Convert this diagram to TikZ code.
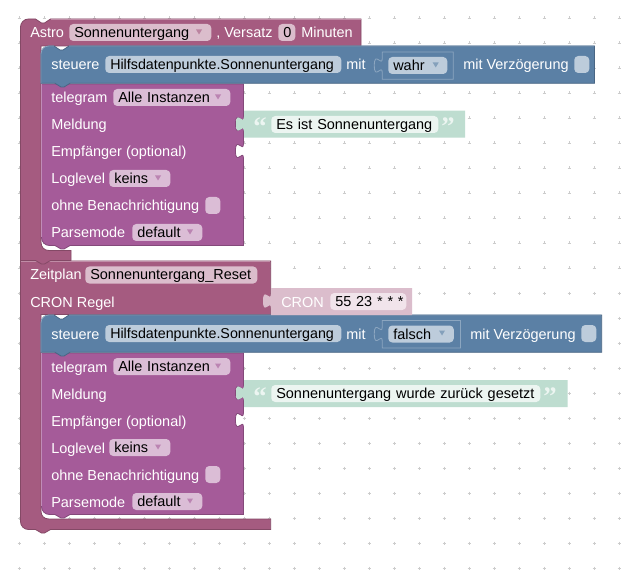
\documentclass[tikz,border=0pt]{standalone}
\usepackage{fontspec}
\setmainfont{Liberation Sans}
\definecolor{astro}{HTML}{A55B80}
\definecolor{astroD}{HTML}{844966}
\definecolor{astroL}{HTML}{C08CA6}
\definecolor{astroF}{HTML}{DBBDCC}
\definecolor{blk}{HTML}{5B80A5}
\definecolor{blkD}{HTML}{496684}
\definecolor{blkL}{HTML}{8CA6C0}
\definecolor{blkF}{HTML}{BDCCDB}
\definecolor{tele}{HTML}{A55B99}
\definecolor{teleD}{HTML}{84497A}
\definecolor{teleL}{HTML}{C08CB8}
\definecolor{teleF}{HTML}{DBBDD6}
\definecolor{grn}{HTML}{BEDDD0}
\definecolor{grnF}{HTML}{ECF5F1}
\definecolor{cronF}{HTML}{F1E4EB}
\definecolor{gridc}{HTML}{CCCCCC}
\tikzset{
  x=0.75pt,y=-0.75pt,
  lab/.style={anchor=base west,inner sep=0pt,text=white,font=\fontsize{10.85pt}{12pt}\selectfont},
  fieldbox/.style={anchor=west,rounded corners=3pt,inner xsep=3.75pt,inner ysep=0pt,
     minimum height=12.75pt,text height=9pt,text depth=1.5pt,align=left,text=black,
     font=\fontsize{10.85pt}{12pt}\selectfont},
  quotemark/.style={anchor=base west,inner sep=0pt,text=grnF,font=\fontsize{20pt}{20pt}\selectfont\bfseries\qfont},
}
\newfontfamily\qfont{Liberation Serif}[BoldFont={Liberation Serif Bold}]
% tab going up / down on a vertical edge (Y = top of the 15px tab)
\newcommand{\tabU}[2]{.. controls (#1,#2+5) and (#1-8,#2+23) .. (#1-8,#2+7.5) .. controls (#1-8,#2-8) and (#1,#2+10) .. (#1,#2)}
\newcommand{\tabD}[2]{.. controls (#1,#2+10) and (#1-8,#2-8) .. (#1-8,#2+7.5) .. controls (#1-8,#2+23) and (#1,#2+5) .. (#1,#2+15)}
% field: name, x1, x2, yc, colour, text
\newcommand{\fld}[6]{\pgfmathsetmacro\fldw{(#3-#2-10)*0.75}%
  \node[fieldbox,fill=#5,text width=\fldw pt] (#1) at (#2,#4) {\mbox{#6}};}
\newcommand{\arrowmark}[3]{\fill[#3] (#1-3,#2-2.5) -- (#1+3,#2-2.5) -- (#1,#2+2.5) -- cycle;}
\newcommand{\telegramblock}[1]{%
 \begin{scope}[yshift=#1*-0.75pt]
  \path[fill=tele,draw=teleD,line width=.6pt]
    (41.5,84) -- (243.5,84) -- (243.5,116.5) \tabD{243.5}{116.5} -- (243.5,143.5) \tabD{243.5}{143.5}
    -- (243.5,245.5) -- (70,245.5) -- (64,249) -- (61,249) -- (55,245.5) -- (49.5,245.5)
    .. controls (45,245.5) and (41.5,242) .. (41.5,237.5) -- cycle;
  \draw[teleL,line width=.6pt] (41.5,237) -- (41.5,84);
 \end{scope}}
\newcommand{\hilf}{\fontsize{10.7pt}{12pt}\selectfont Hilfsdatenpunkte.Sonnenuntergang}
\begin{document}
\begin{tikzpicture}
\useasboundingbox (0,0) rectangle (635,570);
\fill[white] (0,0) rectangle (635,570);
\foreach \gx in {19,44,...,619}
  \foreach \gy in {18,43,...,568}
    \draw[gridc,line width=.5pt] (\gx-1.5,\gy) -- (\gx+1.5,\gy) (\gx,\gy-1.5) -- (\gx,\gy+1.5);

% Zeitplan C block
\path[fill=astro,draw=astroD,line width=.6pt]
  (20.5,261) -- (270.7,261) -- (270.7,314.5) -- (41,314.5) -- (41,511)
  .. controls (41,516) and (44,519) .. (49,519) -- (270.7,519) -- (270.7,529.5)
  -- (50.5,529.5) -- (44.5,533) -- (41.5,533) -- (35.5,529.5) -- (28.5,529.5)
  .. controls (24,529.5) and (20.5,526) .. (20.5,521.5) -- cycle;
\draw[astroL,line width=.6pt] (20.5,261) -- (270.2,261);
% Astro C block
\path[fill=astro,draw=astroD,line width=.6pt]
  (20.5,27) .. controls (20.5,22.6) and (24.1,19) .. (28.5,19) -- (35.5,19) -- (41.5,23) -- (44.5,23) -- (50.5,19)
  -- (361,19) -- (361,46) -- (41,46) -- (41,242)
  .. controls (41,247) and (44,250.5) .. (49,250.5) -- (71,250.5) -- (71,260.5)
  -- (50.5,260.5) -- (44.5,264) -- (41.5,264) -- (35.5,260.5) -- (20.5,260.5) -- cycle;
\draw[astroL,line width=.6pt] (50.5,19) -- (360.5,19);

% Telegram blocks
\telegramblock{0}
\telegramblock{269}

% Blue blocks
\path[fill=blk,draw=blkD,line width=.6pt]
  (41,54) .. controls (41,49.5) and (44.5,46) .. (49,46) -- (54,46) -- (60,50) -- (63,50) -- (69,46)
  -- (594.5,46) -- (594.5,83.3) -- (70,83.3) -- (64,87) -- (61,87) -- (55,83.3) -- (41,83.3) -- cycle;
\draw[blkL,line width=.6pt] (41,83.3) -- (41,54) .. controls (41,49.5) and (44.5,46) .. (49,46) -- (54,46)
  (69,46) -- (594,46);
\path[fill=blk,draw=blkD,line width=.6pt]
  (41,323) .. controls (41,318.5) and (44.5,315) .. (49,315) -- (54,315) -- (60,319) -- (63,319) -- (69,315)
  -- (601.7,315) -- (601.7,352.3) -- (70,352.3) -- (64,356) -- (61,356) -- (55,352.3) -- (41,352.3) -- cycle;
\draw[blkL,line width=.6pt] (41,352.3) -- (41,323) .. controls (41,318.5) and (44.5,315) .. (49,315) -- (54,315)
  (69,315) -- (601.2,315);

% Inner shadow blocks wahr / falsch
\path[draw=blkL,line width=.6pt]
  (382.3,52) -- (453.3,52) -- (453.3,79.3) -- (382.3,79.3) -- (382.3,73) \tabU{382.3}{58} -- cycle;
\path[draw=blkL,line width=.6pt]
  (382.3,320.5) -- (460.5,320.5) -- (460.5,348) -- (382.3,348) -- (382.3,341.5) \tabU{382.3}{326.5} -- cycle;

% Text blocks
\path[fill=grn]
  (244,110.7) -- (465,110.7) -- (465,137.7) -- (244,137.7) -- (244,131.5) \tabU{244}{116.5} -- cycle;
\path[fill=grn]
  (244,380) -- (567.5,380) -- (567.5,407) -- (244,407) -- (244,400.5) \tabU{244}{385.5} -- cycle;
% CRON block
\path[fill=astroF]
  (271,288) -- (412,288) -- (412,315) -- (271,315) -- (271,308.5) \tabU{271}{293.5} -- cycle;

% Astro row
\node[lab] (astrolabel) at (30,38) {Astro};
\fld{astrodrop}{69}{211}{32.5}{astroF}{Sonnenuntergang}
\arrowmark{199}{32}{astro!75!white}
\node[lab] (versatz) at (216,38) {, Versatz};
\fld{offset}{278}{295}{32.5}{astroF}{0}
\node[lab] (minuten) at (301,38) {Minuten};

% Blue block 1
\node[lab] (steuerea) at (51,70) {steuere};
\fld{hilfa}{105}{341}{64.5}{blkF}{\hilf}
\node[lab] (mita) at (346,70) {mit};
\fld{wahr}{388}{447}{65.5}{blkF}{wahr}
\arrowmark{435.7}{65}{blk!75!white}
\node[lab] (verza) at (463,70) {mit Verzögerung};
\node[fieldbox,fill=blkF,minimum width=11.25pt,text width=0pt,inner xsep=0pt] (checka) at (574,64.5) {};

% Telegram 1
\node[lab] (tela) at (51,103) {telegram};
\fld{allea}{113}{230}{97.5}{teleF}{Alle Instanzen}
\arrowmark{218}{97}{tele!75!white}
\node[lab] (melda) at (51,130) {Meldung};
\node[lab] (empfa) at (51,157) {Empfänger (optional)};
\node[lab] (loga) at (51,184) {Loglevel};
\fld{keinsa}{109}{170}{178.5}{teleF}{keins}
\arrowmark{158}{178}{tele!75!white}
\node[lab] (ohnea) at (51,211) {ohne Benachrichtigung};
\node[fieldbox,fill=teleF,minimum width=11.25pt,text width=0pt,inner xsep=0pt] (checkb) at (205,205.5) {};
\node[lab] (parsea) at (51,238) {Parsemode};
\fld{defa}{132}{202}{232.5}{teleF}{default}
\arrowmark{190}{232}{tele!75!white}

% Text 1
\node[quotemark] (qa) at (253,136) {“};
\fld{texta}{271}{438}{124.5}{grnF}{Es ist Sonnenuntergang}
\node[quotemark] (qb) at (441,136) {”};

% Zeitplan
\node[lab] (zeit) at (30,280) {Zeitplan};
\fld{zeitname}{85}{257}{275}{astroF}{Sonnenuntergang\_Reset}
\node[lab] (cronr) at (30,307) {CRON Regel};
\node[lab] (cront) at (281,307) {CRON};
\fld{cronv}{330}{406}{301.5}{cronF}{55 23 * * *}

% Blue block 2
\node[lab] (steuereb) at (51,339) {steuere};
\fld{hilfb}{105}{341}{333.5}{blkF}{\hilf}
\node[lab] (mitb) at (346,339) {mit};
\fld{falsch}{388}{453.5}{334}{blkF}{falsch}
\arrowmark{442}{333}{blk!75!white}
\node[lab] (verzb) at (470,339) {mit Verzögerung};
\node[fieldbox,fill=blkF,minimum width=11.25pt,text width=0pt,inner xsep=0pt] (checkc) at (581,333.5) {};

% Telegram 2
\node[lab] (telb) at (51,372) {telegram};
\fld{alleb}{113}{230}{366.5}{teleF}{Alle Instanzen}
\arrowmark{218}{366}{tele!75!white}
\node[lab] (meldb) at (51,399) {Meldung};
\node[lab] (empfb) at (51,426) {Empfänger (optional)};
\node[lab] (logb) at (51,453) {Loglevel};
\fld{keinsb}{109}{170}{447.5}{teleF}{keins}
\arrowmark{158}{447}{tele!75!white}
\node[lab] (ohneb) at (51,480) {ohne Benachrichtigung};
\node[fieldbox,fill=teleF,minimum width=11.25pt,text width=0pt,inner xsep=0pt] (checkd) at (205,474.5) {};
\node[lab] (parseb) at (51,507) {Parsemode};
\fld{defb}{132}{202}{501.5}{teleF}{default}
\arrowmark{190}{501}{tele!75!white}

% Text 2
\node[quotemark] (qc) at (253,405) {“};
\fld{textb}{271}{540}{393.5}{grnF}{Sonnenuntergang wurde zurück gesetzt}
\node[quotemark] (qd) at (543,405) {”};
\end{tikzpicture}
\end{document}
